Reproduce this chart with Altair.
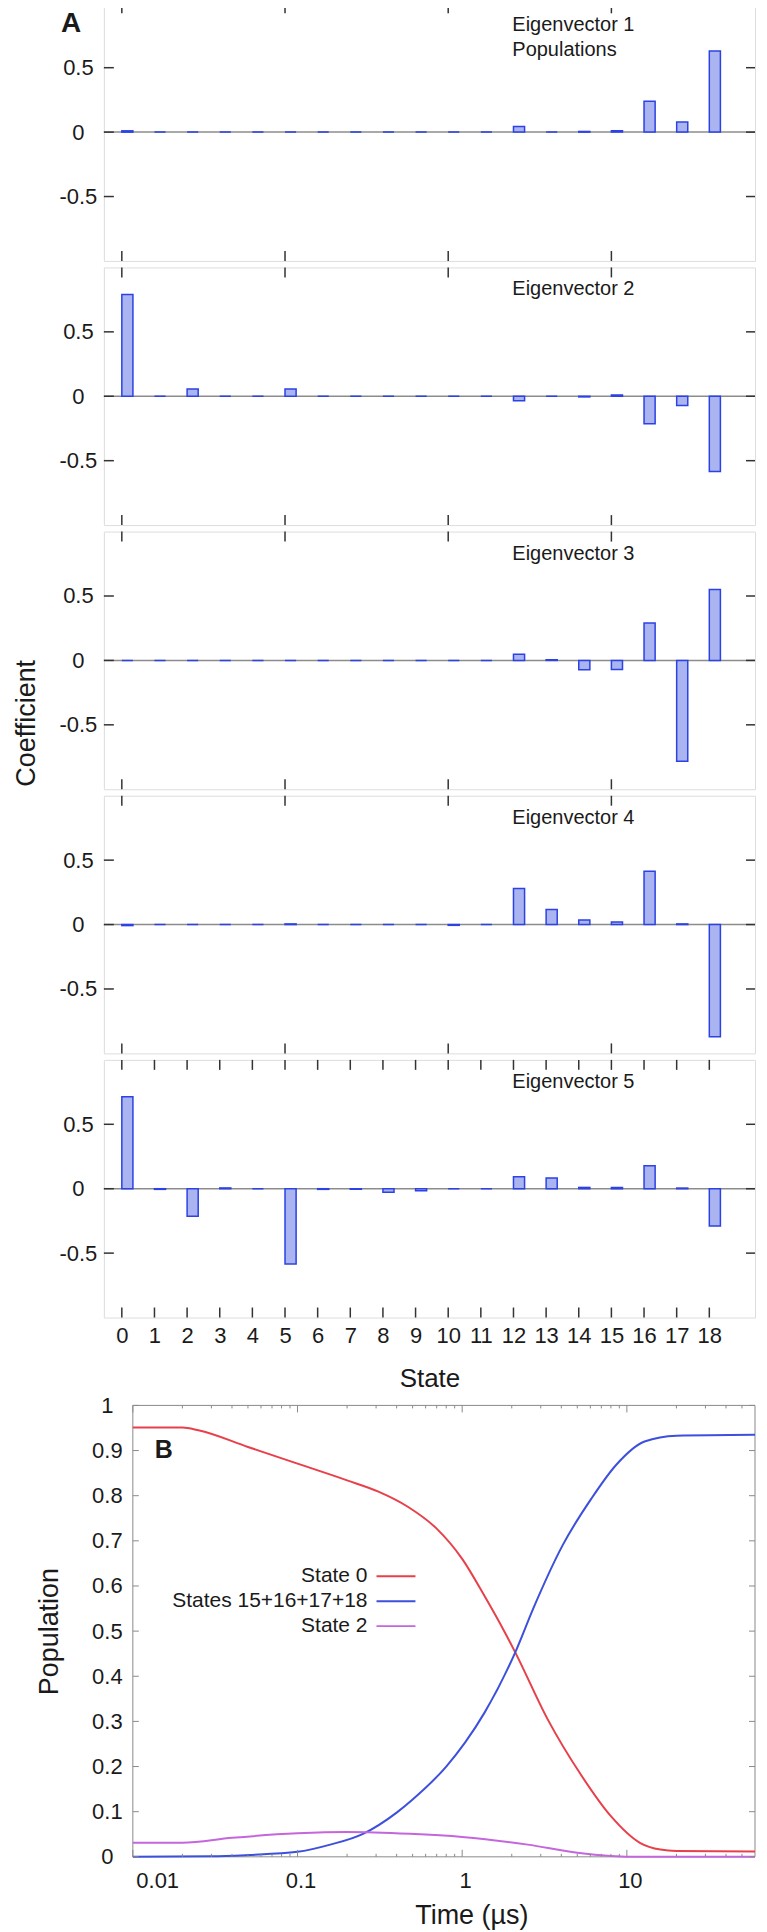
import altair as alt
import pandas as pd

# ---------------- data ----------------
states = list(range(19))
ev1 = [0.01, 0, 0, 0, 0, 0, 0, 0, 0, 0, 0, 0, 0.044, 0, 0.005, 0.01, 0.24, 0.078, 0.63]
ev2 = [0.79, 0, 0.057, 0, 0, 0.057, 0, 0, 0, 0, 0, 0, -0.034, 0, -0.005, 0.01, -0.214, -0.072, -0.584]
ev3 = [0, 0, 0, 0, 0, 0, 0, 0, 0, 0, 0, 0, 0.047, 0.005, -0.072, -0.07, 0.29, -0.783, 0.55]
ev4 = [-0.008, 0, 0, 0, 0, 0.005, 0, 0, 0, 0, -0.006, 0, 0.279, 0.116, 0.035, 0.02, 0.413, 0.005, -0.87]
ev5 = [0.713, -0.005, -0.214, 0.006, 0, -0.584, -0.005, -0.005, -0.028, -0.015, 0, 0, 0.093, 0.083, 0.01, 0.01, 0.178, 0.005, -0.29]
eigvecs = [ev1, ev2, ev3, ev4, ev5]
eig_labels = ["Eigenvector 1", "Eigenvector 2", "Eigenvector 3", "Eigenvector 4", "Eigenvector 5"]
ytick_vals = [-0.5, 0, 0.5]
major_x = [0, 5, 10, 15]

t_state0 = [0.01, 0.02, 0.025, 0.05, 0.1, 0.2, 0.31, 0.47, 0.7, 1.0, 1.37, 1.81, 2.1, 3.3, 5.3, 8, 12, 16, 20, 60]
p_state0 = [0.951, 0.951, 0.945, 0.908, 0.871, 0.834, 0.809, 0.775, 0.727, 0.66, 0.577, 0.498, 0.453, 0.305, 0.18, 0.09, 0.031, 0.016, 0.013, 0.012]
t_states15_18 = [0.01, 0.03, 0.05, 0.1, 0.158, 0.25, 0.4, 0.5, 0.8, 1.04, 1.37, 2.1, 2.7, 4.07, 6.1, 8.6, 12.8, 20, 60]
p_states15_18 = [0.0, 0.001, 0.004, 0.011, 0.027, 0.051, 0.098, 0.127, 0.2, 0.253, 0.32, 0.453, 0.55, 0.69, 0.794, 0.868, 0.92, 0.933, 0.935]
t_state2 = [0.01, 0.02, 0.04, 0.1, 0.2, 0.48, 1.0, 2.5, 5, 8, 12, 60]
p_state2 = [0.031, 0.031, 0.042, 0.052, 0.055, 0.051, 0.044, 0.027, 0.009, 0.002, 0.0, 0.0]
legend_labels = ["State 0", "States 15+16+17+18", "State 2"]
line_colors = ["#e8404a", "#3c50dc", "#c466dc"]
time_major = [0.01, 0.1, 1, 10]
time_minor = [0.02, 0.03, 0.04, 0.05, 0.06, 0.07, 0.08, 0.09,
              0.2, 0.3, 0.4, 0.5, 0.6, 0.7, 0.8, 0.9,
              2, 3, 4, 5, 6, 7, 8, 9, 20, 30, 40, 50]
pop_ticks = [0, 0.1, 0.2, 0.3, 0.4, 0.5, 0.6, 0.7, 0.8, 0.9, 1.0]

# ---------------- style ----------------
FONT = "Liberation Sans"
TXT = "#1a1a1a"
FRAME = "#333333"
BAR_FILL = "#aab4f0"
BAR_STROKE = "#2c42e4"
W, H = 652, 258
WB, HB = 652, 452      # panel B group width; its plot occupies x 29..652
BX0 = 29

xscale = alt.Scale(domain=[-0.55, 19.4], nice=False, zero=False)
yscale = alt.Scale(domain=[-1, 1], nice=False, zero=False)

yaxis = alt.Axis(values=ytick_vals, format="~g", labelExpr="replace(datum.label, '\u2212', '-')",
                 ticks=False, domain=False, grid=False, labelAlign="center",
                 labelPadding=26, labelFontSize=22, labelColor=TXT, labelFont=FONT,
                 minExtent=95, maxExtent=95, title=None)
xaxis_last = alt.Axis(values=states, format="d", ticks=False, domain=False, grid=False,
                      labelFontSize=22, labelPadding=8, labelColor=TXT, labelFont=FONT,
                      title="State", titleFontSize=26, titleFontWeight="normal",
                      titlePadding=19, titleColor=TXT, titleFont=FONT)


def text_layer(s, x, y, size, align="left", weight="normal", angle=0):
    return alt.Chart(pd.DataFrame({"t": [s]})).mark_text(
        align=align, baseline="middle", fontSize=size, fontWeight=weight, font=FONT,
        color=TXT, angle=angle).encode(text="t:N", x=alt.value(x), y=alt.value(y))


def panel(vals, label, idx):
    df = pd.DataFrame({"state": states, "val": vals})
    last = idx == 4
    xaxis = xaxis_last if last else None

    zero = alt.Chart(pd.DataFrame({"z": [0]})).mark_rule(color="#8c8c8c", strokeWidth=1.5).encode(
        y=alt.Y("z:Q", scale=yscale, axis=yaxis))
    bars = alt.Chart(df).transform_calculate(xe="datum.state + 0.34", z="0").mark_rect(
        fill=BAR_FILL, stroke=BAR_STROKE, strokeWidth=1.5).encode(
        x=alt.X("state:Q", scale=xscale, axis=xaxis), x2="xe:Q",
        y=alt.Y("val:Q", scale=yscale, axis=yaxis), y2="z:Q")
    yt = pd.DataFrame({"v": ytick_vals})
    ytl = alt.Chart(yt).mark_rule(color=FRAME, strokeWidth=1.5).encode(
        y=alt.Y("v:Q", scale=yscale, axis=yaxis), x=alt.value(0), x2=alt.value(10))
    ytr = alt.Chart(yt).mark_rule(color=FRAME, strokeWidth=1.5).encode(
        y=alt.Y("v:Q", scale=yscale, axis=yaxis), x=alt.value(W - 9), x2=alt.value(W))
    xt = pd.DataFrame({"v": states if last else major_x})
    xtb = alt.Chart(xt).mark_rule(color=FRAME, strokeWidth=1.5).encode(
        x=alt.X("v:Q", scale=xscale, axis=xaxis), y=alt.value(H - 10), y2=alt.value(H))
    xtt = alt.Chart(xt).mark_rule(color=FRAME, strokeWidth=1.5).encode(
        x=alt.X("v:Q", scale=xscale, axis=xaxis), y=alt.value(0), y2=alt.value(10))
    layers = [zero, bars, ytl, ytr, xtb, xtt, text_layer(label, 409, 22, 20)]
    if idx == 0:
        layers.append(text_layer("Populations", 409, 47, 20))
        layers.append(text_layer("A", -43, 21, 28, weight="bold"))
    if idx == 2:
        layers.append(text_layer("Coefficient", -77, 192, 27, align="center", angle=270))
    return alt.layer(*layers).properties(width=W, height=H)


panels = [panel(v, l, i) for i, (v, l) in enumerate(zip(eigvecs, eig_labels))]

# ---------------- panel B ----------------
bdf = pd.concat([
    pd.DataFrame({"series": legend_labels[0], "t": t_state0, "p": p_state0}),
    pd.DataFrame({"series": legend_labels[1], "t": t_states15_18, "p": p_states15_18}),
    pd.DataFrame({"series": legend_labels[2], "t": t_state2, "p": p_state2}),
])
tscale = alt.Scale(type="log", domain=[0.01, 60], nice=False, range=[BX0, WB])
pscale = alt.Scale(domain=[0, 1], nice=False, zero=False)
BFRAME = "#8a8a8a"

taxis = alt.Axis(values=time_major, format="~g", ticks=False, domain=False, grid=False,
                 labelFontSize=22, labelPadding=14, labelOffset=3, labelColor=TXT,
                 labelFont=FONT, title="Time (\u00b5s)", titleFontSize=27,
                 titleFontWeight="normal", titleColor=TXT, titleFont=FONT,
                 titleX=368, titleY=59, titleBaseline="middle")
paxis = alt.Axis(values=pop_ticks, format="~g", ticks=False, domain=False, grid=False,
                 offset=-BX0, labelFontSize=22, labelPadding=26, labelAlign="center",
                 labelColor=TXT, labelFont=FONT,
                 title="Population", titleFontSize=27, titleFontWeight="normal",
                 titleColor=TXT, titleFont=FONT, titleX=-83, titleY=226,
                 titleAngle=270, titleBaseline="middle")

frame = alt.Chart(pd.DataFrame({"f": [0]})).mark_rect(
    fill="white", fillOpacity=0, stroke=BFRAME, strokeWidth=1).encode(
    x=alt.value(BX0), x2=alt.value(WB), y=alt.value(0), y2=alt.value(HB))

lines = alt.Chart(bdf).mark_line(interpolate="monotone", strokeWidth=2).encode(
    x=alt.X("t:Q", scale=tscale, axis=taxis),
    y=alt.Y("p:Q", scale=pscale, axis=paxis),
    color=alt.Color("series:N", scale=alt.Scale(domain=legend_labels, range=line_colors), legend=None),
)

pt = pd.DataFrame({"v": pop_ticks})
b_layers = [frame, lines]
for x0, x1 in [(BX0, BX0 + 6), (WB - 6, WB)]:
    b_layers.append(alt.Chart(pt).mark_rule(color=BFRAME, strokeWidth=1).encode(
        y=alt.Y("v:Q", scale=pscale, axis=paxis), x=alt.value(x0), x2=alt.value(x1)))
for vals, ln in [(time_major, 7), (time_minor, 3)]:
    d = pd.DataFrame({"v": vals})
    for y0, y1 in [(HB - ln, HB), (0, ln)]:
        b_layers.append(alt.Chart(d).mark_rule(color=BFRAME, strokeWidth=1).encode(
            x=alt.X("v:Q", scale=tscale, axis=taxis), y=alt.value(y0), y2=alt.value(y1)))

for i, (lab, col) in enumerate(zip(legend_labels, line_colors)):
    yv = 171 + 25 * i
    b_layers.append(text_layer(lab, BX0 + 235, yv, 21, align="right"))
    b_layers.append(alt.Chart(pd.DataFrame({"t": [lab]})).mark_rule(color=col, strokeWidth=2).encode(
        x=alt.value(BX0 + 244), x2=alt.value(BX0 + 283), y=alt.value(yv)))

b_layers.append(text_layer("B", BX0 + 22, 45, 25, weight="bold"))

panelB = alt.layer(*b_layers).properties(
    width=WB, height=HB, view=alt.ViewBackground(stroke=None, strokeWidth=0))

top = alt.vconcat(*panels, spacing=2.5)
chart = alt.vconcat(top, panelB, spacing=2).properties(
    padding={"top": -8, "left": 0, "right": 0, "bottom": 0}
).configure_view(stroke=FRAME, strokeWidth=1.5).configure(font=FONT)

chart.save("out.html", embed_options={"renderer": "svg", "actions": False})
